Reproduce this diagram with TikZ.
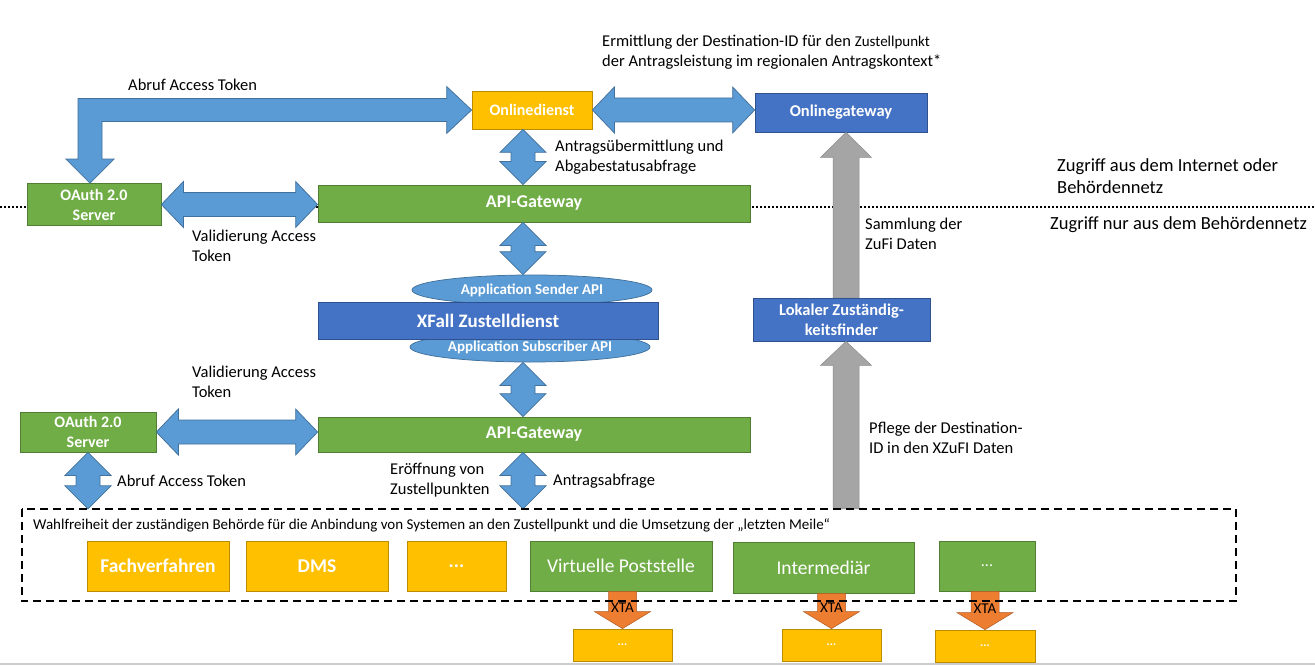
\documentclass[tikz,border=0pt]{standalone}
\usepackage{fontspec}
\setmainfont{Carlito}
\usepackage{xcolor}
\usepackage{tikz}
\usetikzlibrary{calc}
\usetikzlibrary{shapes,arrows,positioning,calc}
\usetikzlibrary{shapes.geometric}

\definecolor{fzblue}{HTML}{5B9BD5}
\definecolor{fzblueline}{HTML}{41719C}
\definecolor{fzdark}{HTML}{4472C4}
\definecolor{fzdarkline}{HTML}{2F528F}
\definecolor{fzgreen}{HTML}{70AD47}
\definecolor{fzgreenline}{HTML}{507E32}
\definecolor{fzyellow}{HTML}{FFC000}
\definecolor{fzyellowline}{HTML}{BC8C00}
\definecolor{fzgray}{HTML}{A5A5A5}
\definecolor{fzgrayline}{HTML}{8C8C8C}
\definecolor{fzorange}{HTML}{ED7D31}
\definecolor{fzorangeline}{HTML}{AE5A21}

\newcommand{\hdarrow}[2]{\filldraw[fatarrow] (#1) -- ($(#1)+(22,-23)$) -- ($(#1)+(22,-12)$) -- ($(#2)+(-22,-12)$) -- ($(#2)+(-22,-23)$) -- (#2) -- ($(#2)+(-22,23)$) -- ($(#2)+(-22,12)$) -- ($(#1)+(22,12)$) -- ($(#1)+(22,23)$) -- cycle;}
\newcommand{\vdarrow}[2]{\filldraw[fatarrow] (#1) -- ($(#1)+(23,23)$) -- ($(#1)+(12,23)$) -- ($(#2)+(12,-23)$) -- ($(#2)+(23,-23)$) -- (#2) -- ($(#2)+(-23,-23)$) -- ($(#2)+(-12,-23)$) -- ($(#1)+(-12,23)$) -- ($(#1)+(-23,23)$) -- cycle;}
\newcommand{\sarrow}[6]{\filldraw[#1] ($(#2)+(-#4,0)$) -- ($(#3)+(-#4,#6)$) -- ($(#3)+(-#5,#6)$) -- (#3) -- ($(#3)+(#5,#6)$) -- ($(#3)+(#4,#6)$) -- ($(#2)+(#4,0)$) -- cycle;}

\begin{document}
\begin{tikzpicture}[x=1pt,y=-1pt,
	fatarrow/.style={fill=fzblue,draw=fzblueline,line width=0.75pt},
	grayarrow/.style={fill=fzgray,draw=fzgrayline,line width=0.5pt},
	xtaarrow/.style={fill=fzorange,draw=fzorangeline,line width=0.5pt},
	box/.style={inner sep=0pt,text=white,align=center,line width=0.75pt,font=\fontsize{16}{20}\selectfont\bfseries},
	gbox/.style={box,fill=fzgreen,draw=fzgreenline},
	ybox/.style={box,fill=fzyellow,draw=fzyellowline},
	bbox/.style={box,fill=fzdark,draw=fzdarkline},
	big/.style={font=\fontsize{19.5}{22}\selectfont\bfseries},
	api/.style={ellipse,inner sep=0pt,fill=fzblue,draw=fzblueline,line width=0.75pt,text=white,font=\fontsize{15}{16}\selectfont\bfseries},
	txt/.style={anchor=west,align=left,inner sep=0pt,font=\fontsize{16.5}{20}\selectfont}]
		\useasboundingbox (0,0) rectangle (1315,666);
		\fill[white] (0,0) rectangle (1315,666);
		\draw[line width=2pt,gray!40] (0,664) -- (1315,664);
		\draw[line width=2pt,dash pattern=on 2pt off 2pt] (0,207) -- (1315,207);
		\node[ybox,minimum width=120pt,minimum height=38pt] (od) at (532,110) {Onlinedienst};
		\node[bbox,minimum width=172pt,minimum height=39pt,font=\fontsize{16.5}{20}\selectfont\bfseries] (og) at (841,112.5) {Onlinegateway};
		\node[gbox,minimum width=134pt,minimum height=42pt] (oa1) at (94,204.5) {OAuth 2.0\\Server};
		\node[gbox,minimum width=432pt,minimum height=37pt,font=\fontsize{18}{20}\selectfont\bfseries] (gw1) at (534,203.5) {API-Gateway};
		\node[api,minimum width=240pt,minimum height=30pt] (snd) at (532,290) {Application Sender API};
		\node[api,minimum width=240pt,minimum height=30pt] (sub) at (530,347) {Application Subscriber API};
		\node[bbox,minimum width=340pt,minimum height=37pt,font=\fontsize{19}{20}\selectfont\bfseries] (xf) at (488,320.5) {XFall Zustelldienst};
		\node[gbox,minimum width=136pt,minimum height=40pt] (oa2) at (88,432) {OAuth 2.0\\Server};
		\node[gbox,minimum width=432pt,minimum height=35pt,font=\fontsize{18}{20}\selectfont\bfseries] (gw2) at (534,434.5) {API-Gateway};
		\node[bbox,minimum width=177pt,minimum height=43pt,font=\fontsize{16.5}{20}\selectfont\bfseries] (lz) at (841.5,319.5) {Lokaler Zuständig-\\keitsfinder};
		\node[inner sep=0pt,minimum width=1214pt,minimum height=92pt] (frame) at (629,555) {};
		\node[ybox,big,minimum width=142pt,minimum height=50pt] (fv) at (158,566) {Fachverfahren};
		\node[ybox,big,minimum width=142pt,minimum height=50pt] (dms) at (317,566) {DMS};
		\node[ybox,big,minimum width=99pt,minimum height=50pt] (d1) at (456.5,566) {...};
		\node[gbox,minimum width=182pt,minimum height=50pt,font=\fontsize{19.5}{20}\selectfont] (vp) at (621,566) {Virtuelle Poststelle};
		\node[gbox,minimum width=181pt,minimum height=51pt,font=\fontsize{19.5}{20}\selectfont] (im) at (823.5,567.5) {Intermediär};
		\node[gbox,minimum width=96pt,minimum height=50pt,font=\fontsize{16}{20}\selectfont] (d2) at (987,566) {...};
		\node[ybox,minimum width=99pt,minimum height=32pt,font=\fontsize{12}{20}\selectfont\bfseries] (y1) at (622.5,645) {...};
		\node[ybox,minimum width=99pt,minimum height=32pt,font=\fontsize{12}{20}\selectfont\bfseries] (y2) at (831.5,645) {...};
		\node[ybox,minimum width=100pt,minimum height=32pt,font=\fontsize{12}{20}\selectfont\bfseries] (y3) at (985,646) {...};
		\coordinate (abx) at (90,0);
		\coordinate (mid) at (523,0);
		\coordinate (gx) at (846,0);
		\coordinate (abb) at (oa1.north -| abx);
		\filldraw[fatarrow] (abb) -- ($(abb)+(-24,-24)$) -- ($(abb)+(-12,-24)$) -- ($(abb |- od.west)+(-12,-11.5)$) -- ($(od.west)+(-25,-11.5)$) -- ($(od.west)+(-25,-23.5)$) -- (od.west) -- ($(od.west)+(-25,23.5)$) -- ($(od.west)+(-25,11.5)$) -- ($(abb |- od.west)+(12,11.5)$) -- ($(abb)+(12,-24)$) -- ($(abb)+(24,-24)$) -- cycle;
		\hdarrow{od.east}{od.east -| og.west}
		\hdarrow{oa1.east}{oa1.east -| gw1.west}
		\hdarrow{oa2.east}{oa2.east -| gw2.west}
		\vdarrow{od.south -| mid}{gw1.north -| mid}
		\vdarrow{gw1.south -| mid}{snd.north -| mid}
		\vdarrow{sub.south -| mid}{gw2.north -| mid}
		\vdarrow{gw2.south -| mid}{frame.north -| mid}
		\vdarrow{oa2.south}{oa2.south |- frame.north}
		\sarrow{grayarrow}{lz.north -| gx}{og.south -| gx}{13}{25.5}{25}
		\sarrow{grayarrow}{frame.north -| gx}{lz.south -| gx}{13}{25.5}{24}
		\sarrow{xtaarrow}{y1.north |- vp.south}{y1.north}{14}{28}{-17}
		\sarrow{xtaarrow}{y2.north |- im.south}{y2.north}{14}{28}{-17}
		\sarrow{xtaarrow}{y3.north |- d2.south}{y3.north}{14}{28}{-17}
		\node[txt] (abruf1) at (128,85) {Abruf Access Token};
		\node[txt] (ermlbl) at (602,52.5) {Ermittlung der Destination-ID für den {\fontsize{15}{20}\selectfont Zustellpunkt}\\der Antragsleistung im regionalen Antragskontext*};
		\node[txt] (antrlbl) at (555,157) {Antragsübermittlung und\\Abgabestatusabfrage};
		\node[txt] (val1) at (192,245.5) {Validierung Access\\Token};
		\node[txt] (val2) at (192,381.5) {Validierung Access\\Token};
		\node[txt] (abruf2) at (117,481) {Abruf Access Token};
		\node[txt] (eroe) at (390,480) {Eröffnung von\\Zustellpunkten};
		\node[txt] (abfr) at (553,481) {Antragsabfrage};
		\node[txt] (samm) at (865,234) {Sammlung der\\ZuFi Daten};
		\node[txt] (pflege) at (869,438) {Pflege der Destination-\\ID in den XZuFI Daten};
		\node[txt,font=\fontsize{18.5}{22}\selectfont] (inet) at (1057,176) {Zugriff aus dem Internet oder\\Behördennetz};
		\node[txt,font=\fontsize{18.5}{22}\selectfont] (bnetz) at (1050,225) {Zugriff nur aus dem Behördennetz};
		\node[txt,font=\fontsize{15}{20}\selectfont] (wahl) at (33,525) {Wahlfreiheit der zuständigen Behörde für die Anbindung von Systemen an den Zustellpunkt und die Umsetzung der „letzten Meile“};
		\draw[line width=2pt,dash pattern=on 8pt off 5pt] (frame.north west) rectangle (frame.south east);
		\node[inner sep=0pt,font=\fontsize{15}{20}\selectfont] (xta1) at ($(y1.north)+(0,-21)$) {XTA};
		\node[inner sep=0pt,font=\fontsize{15}{20}\selectfont] (xta2) at ($(y2.north)+(0,-21)$) {XTA};
		\node[inner sep=0pt,font=\fontsize{15}{20}\selectfont] (xta3) at ($(y3.north)+(0,-21)$) {XTA};
	\end{tikzpicture}
\end{document}
